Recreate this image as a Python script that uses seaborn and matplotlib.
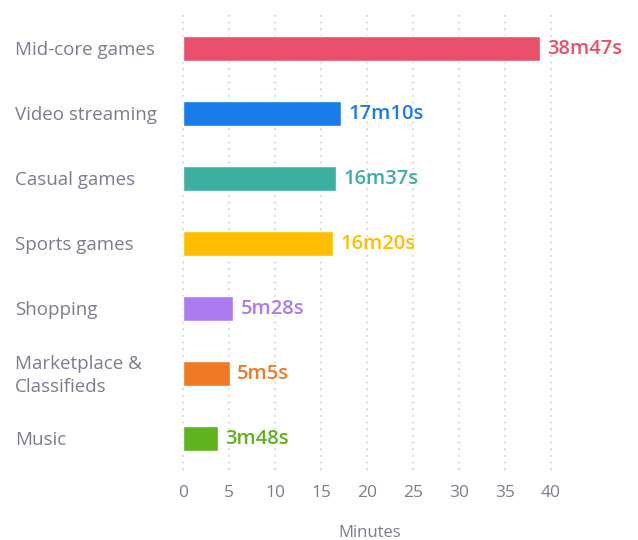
import matplotlib
matplotlib.use("Agg")
import matplotlib.pyplot as plt
import matplotlib.transforms as mtransforms
import pandas as pd
import seaborn as sns

categories = ["Mid-core games", "Video streaming", "Casual games", "Sports games",
              "Shopping", "Marketplace &\nClassifieds", "Music"]
minutes = [38, 17, 16, 16, 5, 5, 3]
seconds = [47, 10, 37, 20, 28, 5, 48]
colors = ["#E8506B", "#1A7BEB", "#3AAFA2", "#FFBF00", "#AC7AF1", "#EE7A25", "#5EB31E"]
x_ticks = [0, 5, 10, 15, 20, 25, 30, 35, 40]

df = pd.DataFrame({
    "category": categories,
    "value": [m + s / 60 for m, s in zip(minutes, seconds)],
    "label": [f"{m}m{s}s" for m, s in zip(minutes, seconds)],
})

sns.set_theme(style="white")
plt.rcParams["font.family"] = ["Open Sans", "DejaVu Sans"]

text_gray = "#7C7C8E"
fig = plt.figure(figsize=(6.38, 5.40), dpi=100)
ax = fig.add_axes([178.4 / 638, 1 - 470 / 540, (560.2 - 178.4) / 638, 460 / 540])

sns.barplot(data=df, y="category", x="value", hue="category", palette=colors,
            orient="h", width=0.385, legend=False, ax=ax, saturation=1)

ax.set_xlim(-0.5, 41)
ax.set_ylim(6.49, -0.585)

# dotted vertical gridlines
for t in x_ticks:
    ax.axvline(t, color="#D0D0D6", linestyle=(0, (1, 3)), linewidth=1.2, zorder=0)

for spine in ax.spines.values():
    spine.set_visible(False)

ax.set_xticks(x_ticks)
ax.set_xticklabels([str(t) for t in x_ticks], color=text_gray, fontsize=12.5)
ax.tick_params(axis="x", length=0, pad=11)
ax.set_yticks([])
ax.set_ylabel("")
ax.set_xlabel("Minutes", color=text_gray, fontsize=12, labelpad=17)

# category labels, left aligned near the figure edge
trans = mtransforms.blended_transform_factory(fig.transFigure, ax.transData)
for i, cat in enumerate(df["category"]):
    ax.text(15 / 638, i + 0.03, cat, transform=trans, ha="left", va="center",
            color=text_gray, fontsize=13.5, linespacing=1.35)

# value labels at bar ends
for i, (v, lab, c) in enumerate(zip(df["value"], df["label"], colors)):
    ax.text(v + 0.8, i + 0.02, lab, ha="left", va="center", color=c, fontsize=14.5,
            fontweight="semibold", clip_on=False)

fig.savefig("out.png", dpi=100)
